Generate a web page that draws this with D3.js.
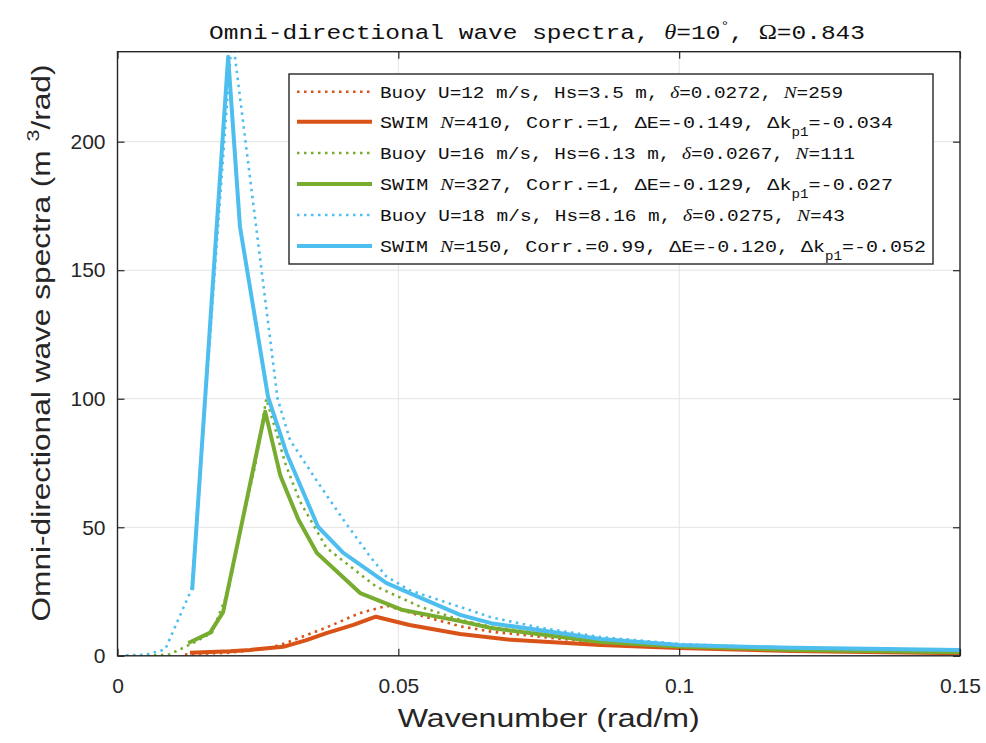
<!DOCTYPE html>
<html>
<head>
<meta charset="utf-8">
<script src="https://cdn.jsdelivr.net/npm/d3@7"></script>
<style>
  body { margin: 0; background: #fff; }
  svg { display: block; }
</style>
</head>
<body>
<svg id="chart" width="986" height="743"></svg>
<script>
// ---- data: wavenumber (rad/m) and omni-directional spectrum (m^3/rad) ----
const buoy12K = [0.0120, 0.0200, 0.0270, 0.0300, 0.0372, 0.0430, 0.0480, 0.0520, 0.0610, 0.0665, 0.0860, 0.1000, 0.1200, 0.1500];
const buoy12S = [0.5, 1.2, 3.0, 5.0, 11.0, 16.5, 19.5, 16.8, 11.5, 9.4, 5.0, 3.5, 2.0, 1.2];

const swim12K = [0.0129, 0.0200, 0.0236, 0.0295, 0.0335, 0.0372, 0.0420, 0.0460, 0.0520, 0.0610, 0.0700, 0.0860, 0.1000, 0.1200, 0.1500];
const swim12S = [1.2, 1.8, 2.3, 3.5, 6.0, 8.8, 12.0, 15.2, 12.0, 8.5, 6.2, 4.2, 3.0, 1.9, 1.0];

const buoy16K = [0.0015, 0.0090, 0.0135, 0.0168, 0.0197, 0.0218, 0.0245, 0.0265, 0.0300, 0.0325, 0.0372, 0.0460, 0.0540, 0.0610, 0.0665, 0.0860, 0.1000, 0.1200, 0.1500];
const buoy16S = [0.0, 0.3, 5.0, 9.0, 25.0, 48.0, 74.0, 100.0, 74.0, 60.0, 42.0, 27.0, 19.0, 14.0, 11.3, 5.5, 3.8, 2.4, 1.5];

const swim16K = [0.0126, 0.0165, 0.0188, 0.0218, 0.0263, 0.0290, 0.0322, 0.0355, 0.0432, 0.0508, 0.0610, 0.0665, 0.0860, 0.1000, 0.1200, 0.1500];
const swim16S = [5.0, 9.0, 17.0, 48.0, 95.0, 70.0, 53.0, 40.0, 24.4, 17.8, 13.5, 10.8, 5.4, 3.6, 2.3, 1.4];

const buoy18K = [0.0015, 0.0050, 0.0085, 0.0132, 0.0204, 0.0285, 0.0307, 0.0355, 0.0402, 0.0450, 0.0478, 0.0520, 0.0610, 0.0665, 0.0750, 0.0860, 0.1000, 0.1200, 0.1500];
const buoy18S = [0.2, 0.4, 2.5, 26.0, 242.0, 100.0, 84.0, 68.0, 53.0, 38.5, 31.0, 25.5, 19.0, 15.0, 11.0, 7.3, 4.6, 3.0, 2.0];

const swim18K = [0.0133, 0.0197, 0.0218, 0.0268, 0.0301, 0.0357, 0.0402, 0.0479, 0.0610, 0.0665, 0.0860, 0.1000, 0.1200, 0.1500];
const swim18S = [25.6, 233.0, 167.0, 100.7, 78.8, 50.2, 40.0, 28.3, 15.9, 12.7, 6.5, 4.2, 3.1, 2.3];

const xTicks = [0, 0.05, 0.1, 0.15];
const xTickLabels = ["0", "0.05", "0.1", "0.15"];
const yTicks = [0, 50, 100, 150, 200];
const yTickLabels = ["0", "50", "100", "150", "200"];

// legend rows: text segments (i = italic, sub = subscript)
const legendRows = [
  [{t: "Buoy U=12 m/s,  Hs=3.5 m,  "}, {t: "δ", i: true}, {t: "=0.0272,  "}, {t: "N", i: true}, {t: "=259"}],
  [{t: "SWIM "}, {t: "N", i: true}, {t: "=410,  Corr.=1,  ΔE=-0.149,  Δk"}, {t: "p1", sub: true}, {t: "=-0.034"}],
  [{t: "Buoy U=16 m/s,  Hs=6.13 m,  "}, {t: "δ", i: true}, {t: "=0.0267,  "}, {t: "N", i: true}, {t: "=111"}],
  [{t: "SWIM "}, {t: "N", i: true}, {t: "=327,  Corr.=1,  ΔE=-0.129,  Δk"}, {t: "p1", sub: true}, {t: "=-0.027"}],
  [{t: "Buoy U=18 m/s,  Hs=8.16 m,  "}, {t: "δ", i: true}, {t: "=0.0275,  "}, {t: "N", i: true}, {t: "=43"}],
  [{t: "SWIM "}, {t: "N", i: true}, {t: "=150,  Corr.=0.99,  ΔE=-0.120,  Δk"}, {t: "p1", sub: true}, {t: "=-0.052"}]
];
const legendWidths = [463, 513, 475, 513, 465, 546];

const orange = "#D95319", green = "#77AC30", cyan = "#4DBEEE";

const series = [
  {k: buoy12K, s: buoy12S, color: orange, dotted: true},
  {k: swim12K, s: swim12S, color: orange, dotted: false},
  {k: buoy16K, s: buoy16S, color: green, dotted: true},
  {k: swim16K, s: swim16S, color: green, dotted: false},
  {k: buoy18K, s: buoy18S, color: cyan, dotted: true},
  {k: swim18K, s: swim18S, color: cyan, dotted: false}
];

// ---- layout ----
const svg = d3.select("#chart");
const pLeft = 117.5, pRight = 960, pTop = 51.7, pBottom = 655.8;
const x = d3.scaleLinear().domain([0, 0.15]).range([pLeft, pRight]);
const y = d3.scaleLinear().domain([0, 235]).range([pBottom, pTop]);
const axisColor = "#262626";
const tickFont = "'Liberation Sans', Arial, sans-serif";
const monoFont = "'Liberation Mono', 'DejaVu Sans Mono', monospace";

svg.append("defs").append("clipPath").attr("id", "plotClip")
  .append("rect").attr("x", pLeft).attr("y", pTop).attr("width", pRight - pLeft).attr("height", pBottom - pTop);

// grid
const grid = svg.append("g").attr("stroke", "#e3e3e3").attr("stroke-width", 1);
grid.selectAll("line.gx").data(xTicks.slice(1, -1)).join("line")
  .attr("x1", d => x(d)).attr("x2", d => x(d)).attr("y1", pTop).attr("y2", pBottom);
grid.selectAll("line.gy").data(yTicks.slice(1)).join("line")
  .attr("x1", pLeft).attr("x2", pRight).attr("y1", d => y(d)).attr("y2", d => y(d));

// curves
const line = d3.line().x(d => x(d[0])).y(d => y(d[1]));
const plot = svg.append("g").attr("clip-path", "url(#plotClip)");
series.forEach(sr => {
  const pts = sr.k.map((k, i) => [k, sr.s[i]]);
  plot.append("path").datum(pts)
    .attr("d", line)
    .attr("fill", "none")
    .attr("stroke", sr.color)
    .attr("stroke-width", sr.dotted ? 2.6 : 4)
    .attr("stroke-linejoin", "round")
    .attr("stroke-dasharray", sr.dotted ? "2.5,4.5" : null);
});

// axes with inward ticks
const tickLen = 7;
const xAxis = d3.axisBottom(x).tickValues(xTicks).tickSize(-tickLen).tickPadding(22)
  .tickFormat((d, i) => xTickLabels[i]);
const yAxis = d3.axisLeft(y).tickValues(yTicks).tickSize(-tickLen).tickPadding(12)
  .tickFormat((d, i) => yTickLabels[i]);

function styleAxis(g) {
  g.select(".domain").remove();
  g.selectAll(".tick line").attr("stroke", axisColor).attr("stroke-width", 1.2);
  g.selectAll(".tick text").attr("fill", "#262626").attr("font-family", tickFont).attr("font-size", 21);
}
svg.append("g").attr("transform", `translate(0,${pBottom})`).call(xAxis).call(styleAxis);
svg.append("g").attr("transform", `translate(${pLeft},0)`).call(yAxis).call(styleAxis);
svg.append("g").attr("transform", `translate(0,${pTop})`)
  .call(d3.axisTop(x).tickValues(xTicks).tickSize(-tickLen).tickFormat(""))
  .call(styleAxis);
svg.append("g").attr("transform", `translate(${pRight},0)`)
  .call(d3.axisRight(y).tickValues(yTicks).tickSize(-tickLen).tickFormat(""))
  .call(styleAxis);

// box
svg.append("rect").attr("x", pLeft).attr("y", pTop).attr("width", pRight - pLeft).attr("height", pBottom - pTop)
  .attr("fill", "none").attr("stroke", axisColor).attr("stroke-width", 1.4);

// axis titles
svg.append("text")
  .attr("x", (pLeft + pRight) / 2 + 10).attr("y", 727)
  .attr("text-anchor", "middle")
  .attr("font-family", tickFont).attr("font-size", 26).attr("fill", "#262626")
  .attr("textLength", 302).attr("lengthAdjust", "spacingAndGlyphs")
  .text("Wavenumber (rad/m)");

const yl = svg.append("text")
  .attr("transform", "translate(50,343) rotate(-90)")
  .attr("text-anchor", "middle")
  .attr("font-family", tickFont).attr("font-size", 25).attr("fill", "#262626")
  .attr("textLength", 557).attr("lengthAdjust", "spacingAndGlyphs");
yl.append("tspan").text("Omni-directional wave spectra (m ");
yl.append("tspan").attr("font-size", 17).attr("dy", -11).text("3");
yl.append("tspan").attr("dy", 11).text("/rad)");

// title
const tt = svg.append("text")
  .attr("x", 209).attr("y", 39)
  .attr("font-family", monoFont).attr("font-size", 20).attr("fill", "#111")
  .attr("textLength", 656).attr("lengthAdjust", "spacingAndGlyphs");
tt.append("tspan").text("Omni-directional wave spectra,  ");
tt.append("tspan").attr("font-style", "italic").attr("font-family", "'Liberation Serif', serif").text("θ");
tt.append("tspan").text("=10");
tt.append("tspan").attr("font-size", 12).attr("dy", -9).text("°");
tt.append("tspan").attr("dy", 9).text(",  ");
tt.append("tspan").attr("font-family", "'Liberation Serif', serif").text("Ω");
tt.append("tspan").text("=0.843");

// legend
const lgX = 289, lgY = 74, lgW = 644, lgH = 190;
const lg = svg.append("g");
lg.append("rect").attr("x", lgX).attr("y", lgY).attr("width", lgW).attr("height", lgH)
  .attr("fill", "#fff").attr("stroke", axisColor).attr("stroke-width", 1.4);
const rowY = [91.7, 121.7, 153, 184, 215, 246];
series.forEach((sr, i) => {
  lg.append("line")
    .attr("x1", 297).attr("x2", 372).attr("y1", rowY[i]).attr("y2", rowY[i])
    .attr("stroke", sr.color)
    .attr("stroke-width", sr.dotted ? 2.6 : 4)
    .attr("stroke-dasharray", sr.dotted ? "2.5,4.5" : null);
  const t = lg.append("text")
    .attr("x", 380).attr("y", rowY[i] + 6)
    .attr("font-family", monoFont).attr("font-size", 17).attr("fill", "#111")
    .attr("textLength", legendWidths[i]).attr("lengthAdjust", "spacingAndGlyphs");
  legendRows[i].forEach((seg, j) => {
    const ts = t.append("tspan").text(seg.t);
    if (seg.i) ts.attr("font-style", "italic").attr("font-family", "'Liberation Serif', serif");
    if (seg.sub) ts.attr("font-size", 12).attr("dy", 8);
    else if (j > 0 && legendRows[i][j - 1].sub) ts.attr("dy", -8);
  });
});
</script>
</body>
</html>
